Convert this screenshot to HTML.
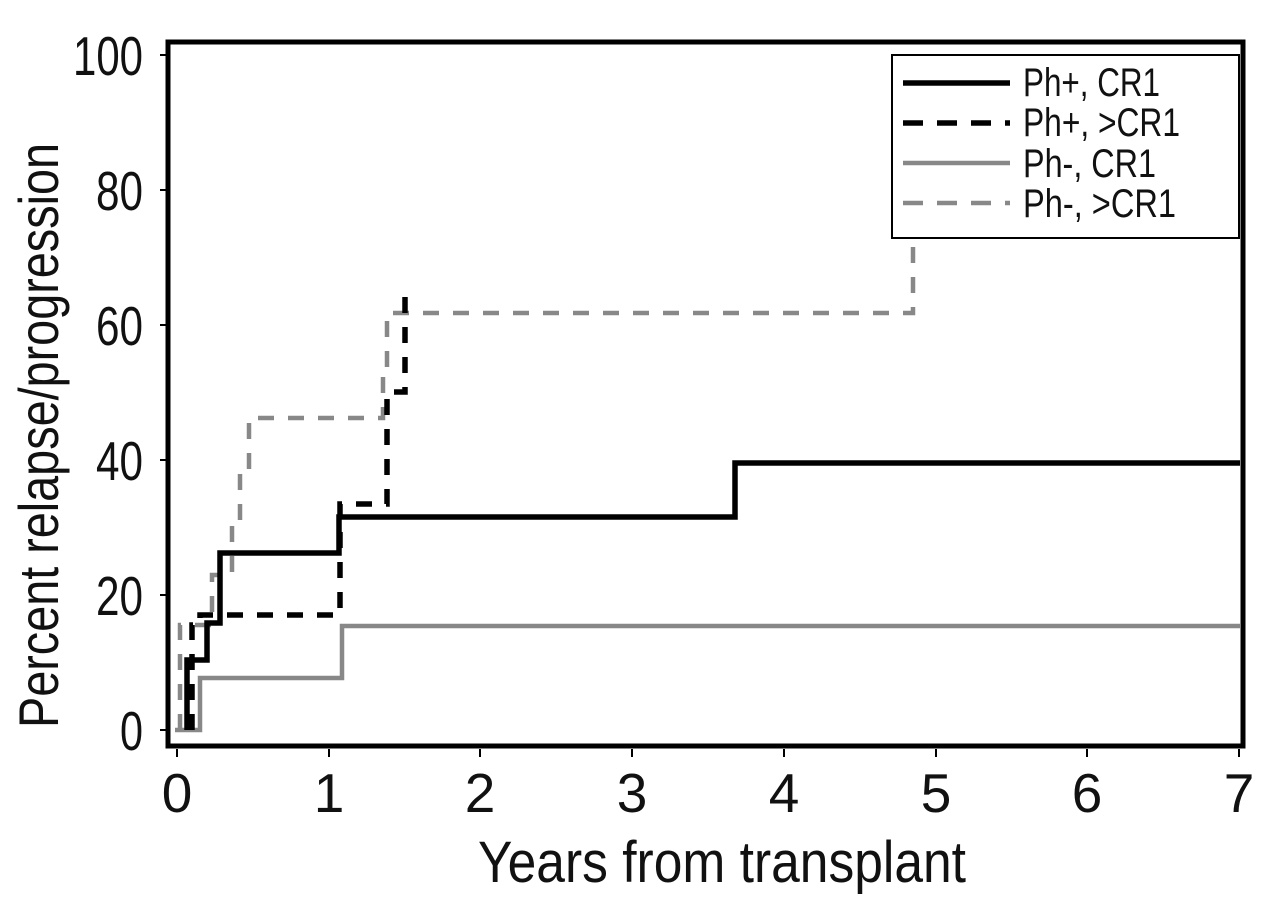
<!DOCTYPE html>
<html><head><style>body{margin:0;background:#fff}svg{display:block}</style></head>
<body>
<svg width="1280" height="908" xmlns="http://www.w3.org/2000/svg" font-family="Liberation Sans Narrow, Liberation Sans, sans-serif">
<rect width="1280" height="908" fill="#fff"/>
<g fill="none" stroke-linejoin="miter">
<polyline stroke="#888" stroke-width="4.5" points="175,730 200,730 200,678 342,678 342,626 1240,626"/>
<polyline stroke="#888" stroke-width="4.5" stroke-dasharray="16,14" points="180,730 180,625 212,625 212,575 232,575 232,520 240,520 240,470 249,470 249,418 383,418 383,370 387,370 387,313 913,313 913,245"/>
<polyline stroke="#000" stroke-width="5.5" points="187,730 187,660 207,660 207,623 220,623 220,553 339,553 339,517 735,517 735,463 1240,463"/>
<polyline stroke="#000" stroke-width="5.5" stroke-dasharray="16,14" points="192,730 192,625 200,625 200,615 340,615 340,504 387,504 387,392 405,392 405,286"/>
</g>
<rect x="168" y="42" width="1075" height="704" fill="none" stroke="#000" stroke-width="5"/>
<g stroke="#000" stroke-width="2">
<line x1="160" y1="55" x2="166" y2="55"/><line x1="160" y1="190" x2="166" y2="190"/>
<line x1="160" y1="325" x2="166" y2="325"/><line x1="160" y1="460" x2="166" y2="460"/>
<line x1="160" y1="595" x2="166" y2="595"/><line x1="160" y1="730" x2="166" y2="730"/>
<line x1="177" y1="749" x2="177" y2="757"/><line x1="329" y1="749" x2="329" y2="757"/>
<line x1="480" y1="749" x2="480" y2="757"/><line x1="632" y1="749" x2="632" y2="757"/>
<line x1="784" y1="749" x2="784" y2="757"/><line x1="936" y1="749" x2="936" y2="757"/>
<line x1="1087" y1="749" x2="1087" y2="757"/><line x1="1239" y1="749" x2="1239" y2="757"/>
</g>
<g font-size="55" fill="#111" text-anchor="end">
<text x="143" y="75" textLength="70" lengthAdjust="spacingAndGlyphs">100</text>
<text x="143" y="210" textLength="47" lengthAdjust="spacingAndGlyphs">80</text>
<text x="143" y="345" textLength="47" lengthAdjust="spacingAndGlyphs">60</text>
<text x="143" y="480" textLength="47" lengthAdjust="spacingAndGlyphs">40</text>
<text x="143" y="615" textLength="47" lengthAdjust="spacingAndGlyphs">20</text>
<text x="143" y="750" textLength="23" lengthAdjust="spacingAndGlyphs">0</text>
</g>
<g font-size="55" fill="#111" text-anchor="middle">
<text x="177" y="812">0</text><text x="329" y="812">1</text><text x="480" y="812">2</text>
<text x="632" y="812">3</text><text x="784" y="812">4</text><text x="936" y="812">5</text>
<text x="1087" y="812">6</text><text x="1239" y="812">7</text>
</g>
<text x="478" y="882" font-size="58" fill="#111" textLength="488" lengthAdjust="spacingAndGlyphs">Years from transplant</text>
<text transform="translate(58,728) rotate(-90)" font-size="56" fill="#111" textLength="585" lengthAdjust="spacingAndGlyphs">Percent relapse/progression</text>
<rect x="892" y="55" width="347" height="183" fill="#fff" stroke="#000" stroke-width="2"/>
<g fill="none">
<line x1="903" y1="83" x2="1010" y2="83" stroke="#000" stroke-width="5.5"/>
<line x1="903" y1="123" x2="1010" y2="123" stroke="#000" stroke-width="5.5" stroke-dasharray="20,14"/>
<line x1="903" y1="163" x2="1010" y2="163" stroke="#888" stroke-width="4.5"/>
<line x1="903" y1="203" x2="1010" y2="203" stroke="#888" stroke-width="4.5" stroke-dasharray="20,14"/>
</g>
<g font-size="40" fill="#111">
<text x="1023" y="96" textLength="137" lengthAdjust="spacingAndGlyphs">Ph+, CR1</text>
<text x="1023" y="136" textLength="157" lengthAdjust="spacingAndGlyphs">Ph+, &gt;CR1</text>
<text x="1023" y="177" textLength="133" lengthAdjust="spacingAndGlyphs">Ph-, CR1</text>
<text x="1023" y="217" textLength="153" lengthAdjust="spacingAndGlyphs">Ph-, &gt;CR1</text>
</g>
</svg>
</body></html>
